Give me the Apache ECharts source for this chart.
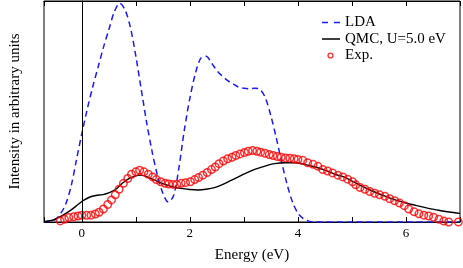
<!DOCTYPE html>
<html><head><meta charset="utf-8">
<script src="https://cdn.jsdelivr.net/npm/echarts@6/dist/echarts.min.js"></script>
<style>html,body{margin:0;padding:0;background:#fff}#c{width:463px;height:268px}</style>
</head><body><div id="c"></div>
<script>
// LDA (blue dashed)
const ldaE = [-0.70,-0.60,-0.50,-0.40,-0.30,-0.20,-0.10,0.00,0.10,0.20,0.30,0.40,0.50,0.60,0.70,0.80,0.90,1.00,1.10,1.20,1.30,1.40,1.50,1.60,1.70,1.80,1.90,2.00,2.10,2.20,2.30,2.40,2.50,2.60,2.70,2.80,2.90,3.00,3.10,3.20,3.30,3.40,3.50,3.60,3.70,3.80,3.90,4.00,4.10,4.20,4.30,5.00,6.00,7.00];
const ldaI = [0.000,0.003,0.010,0.035,0.080,0.160,0.280,0.400,0.510,0.610,0.700,0.790,0.870,0.950,0.990,0.960,0.880,0.750,0.600,0.450,0.320,0.210,0.130,0.090,0.120,0.250,0.420,0.560,0.670,0.740,0.750,0.720,0.685,0.660,0.640,0.625,0.610,0.605,0.603,0.605,0.600,0.560,0.480,0.380,0.270,0.170,0.090,0.040,0.015,0.004,0.000,0.000,0.000,0.000];
// QMC, U=5.0 eV (black)
const qmcE = [-0.70,-0.53,-0.38,-0.23,-0.07,0.02,0.14,0.26,0.39,0.51,0.63,0.75,0.88,1.00,1.09,1.21,1.34,1.49,1.67,1.83,2.00,2.15,2.30,2.47,2.65,2.84,3.02,3.20,3.39,3.57,3.76,3.94,4.12,4.30,4.50,4.70,4.85,5.00,5.20,5.40,5.60,5.80,6.00,6.20,6.40,6.60,6.80,7.00];
const qmcI = [0.002,0.009,0.027,0.049,0.079,0.096,0.112,0.120,0.124,0.133,0.148,0.175,0.197,0.209,0.212,0.204,0.190,0.175,0.160,0.152,0.147,0.145,0.148,0.157,0.175,0.197,0.219,0.238,0.253,0.264,0.268,0.268,0.261,0.250,0.235,0.215,0.204,0.185,0.160,0.138,0.118,0.100,0.086,0.074,0.063,0.053,0.045,0.039];
// Exp. (red open circles)
const expE = [-0.40,-0.32,-0.24,-0.15,-0.07,0.00,0.09,0.17,0.25,0.32,0.40,0.48,0.55,0.62,0.69,0.77,0.85,0.92,1.00,1.07,1.15,1.23,1.31,1.38,1.46,1.54,1.61,1.69,1.76,1.84,1.92,2.01,2.09,2.16,2.24,2.32,2.40,2.47,2.54,2.62,2.70,2.78,2.85,2.93,3.01,3.08,3.16,3.24,3.31,3.39,3.47,3.54,3.62,3.69,3.77,3.85,3.93,4.00,4.09,4.18,4.28,4.37,4.46,4.55,4.64,4.74,4.83,4.92,5.01,5.07,5.15,5.24,5.33,5.42,5.51,5.61,5.70,5.79,5.88,5.97,6.05,6.15,6.24,6.33,6.42,6.51,6.61,6.70,6.79,6.88,6.97];
const expI = [0.005,0.012,0.020,0.024,0.027,0.030,0.030,0.031,0.036,0.044,0.059,0.079,0.100,0.123,0.148,0.175,0.197,0.216,0.227,0.234,0.227,0.216,0.204,0.192,0.182,0.175,0.172,0.170,0.170,0.175,0.178,0.182,0.192,0.201,0.212,0.224,0.237,0.249,0.264,0.276,0.286,0.293,0.301,0.308,0.314,0.320,0.323,0.320,0.316,0.311,0.305,0.301,0.296,0.293,0.290,0.289,0.286,0.283,0.279,0.268,0.261,0.252,0.237,0.231,0.222,0.212,0.204,0.194,0.182,0.168,0.156,0.148,0.138,0.130,0.123,0.116,0.105,0.096,0.086,0.074,0.059,0.046,0.037,0.031,0.027,0.022,0.012,0.004,0.000,-0.003,0.000];
const xLabels = [0,2,4,6];

const zip = (a,b) => a.map((v,i)=>[v,b[i]]);
const FONT = 'Liberation Serif';
// legend icons: invisible corner points fix the box at 18x10
const BOX = 'M0 -5L0 -5Z M18 5L18 5Z ';
const ICON_LDA = 'path://' + BOX + 'M0 -0.8h6v1.6h-6Z M12 -0.8h6v1.6h-6Z';
const ICON_QMC = 'path://' + BOX + 'M0 -0.8h18v1.6h-18Z';
const ICON_EXP = 'path://' + BOX + 'M11.6 0A3.1 3.1 0 1 0 5.4 0A3.1 3.1 0 1 0 11.6 0Z M10.3 0A1.8 1.8 0 1 1 6.7 0A1.8 1.8 0 1 1 10.3 0Z';
const chart = echarts.init(document.getElementById('c'), null, {renderer:'canvas'});
const xCommon = {
  type:'value', min:-0.7, max:7.0, splitNumber:8,
  axisLine:{show:true, lineStyle:{color:'#000', width:1}},
  axisTick:{show:true, inside:true, length:5, lineStyle:{color:'#000', width:1}},
  splitLine:{show:false}
};
chart.setOption({
  animation:false,
  backgroundColor:'#fff',
  textStyle:{fontFamily:FONT, color:'#000'},
  grid:{left:41, right:3, top:1, bottom:42, show:true, borderColor:'#000', borderWidth:1, backgroundColor:'transparent'},
  legend:{
    orient:'vertical', left:317, top:10, itemWidth:18, itemHeight:10, itemGap:1.5,
    textStyle:{fontFamily:FONT, fontSize:15, color:'#000'},
    data:[
      {name:'LDA', icon:ICON_LDA, itemStyle:{color:'#1a1aff', borderWidth:0}},
      {name:'QMC, U=5.0 eV', icon:ICON_QMC, itemStyle:{color:'#000', borderWidth:0}},
      {name:'Exp.', icon:ICON_EXP, itemStyle:{color:'#ff0000', borderWidth:0}}
    ]
  },
  xAxis:[
    Object.assign({}, xCommon, {
      position:'bottom',
      name:'Energy (eV)', nameLocation:'middle', nameGap:26,
      nameTextStyle:{fontFamily:FONT, fontSize:15, color:'#000'},
      axisLabel:{show:true, margin:5, fontFamily:FONT, fontSize:13, color:'#000',
        formatter: v => { const r = Math.round(v); return (Math.abs(v-r)<1e-6 && xLabels.indexOf(r)>=0) ? String(r) : ''; }}
    }),
    Object.assign({}, xCommon, {position:'top', axisLabel:{show:false}})
  ],
  yAxis:[{
    type:'value', min:0, max:1,
    name:'Intensity in arbitrary units', nameLocation:'middle', nameGap:21, nameRotate:90,
    nameTextStyle:{fontFamily:FONT, fontSize:15, color:'#000'},
    axisLine:{show:true, lineStyle:{color:'#000'}}, axisTick:{show:false}, axisLabel:{show:false}, splitLine:{show:false}
  }],
  series:[
    {name:'LDA', type:'line', data:zip(ldaE, ldaI), smooth:0.3, symbol:'none', z:2,
     lineStyle:{color:'#1a1aff', width:1.5, type:[6,4]}, itemStyle:{color:'#1a1aff'},
     markLine:{silent:true, symbol:'none', label:{show:false}, lineStyle:{color:'#000', width:1, type:'solid'}, data:[{xAxis:0}]}},
    {name:'QMC, U=5.0 eV', type:'line', data:zip(qmcE, qmcI), smooth:0.3, symbol:'none', z:3,
     lineStyle:{color:'#000', width:1.4}, itemStyle:{color:'#000'}},
    {name:'Exp.', type:'scatter', data:zip(expE, expI), symbol:'circle', symbolSize:7.5, z:4,
     itemStyle:{color:'transparent', borderColor:'#ff0000', borderWidth:1.5}}
  ]
});
</script></body></html>
